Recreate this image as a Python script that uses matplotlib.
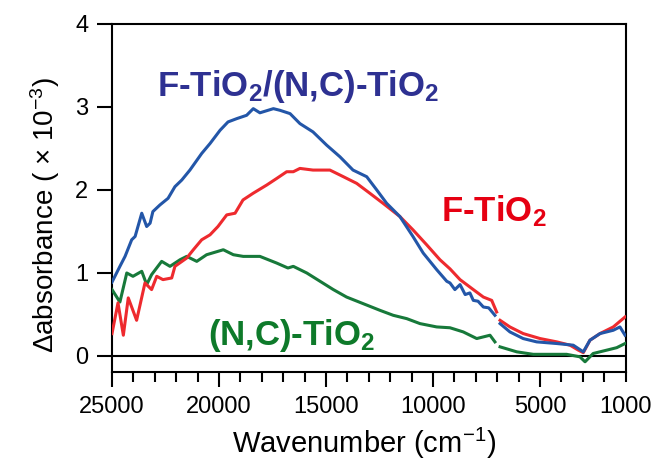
import numpy as np
import matplotlib
matplotlib.use("Agg")
import matplotlib.pyplot as plt

plt.rcParams['font.family'] = ['Liberation Sans', 'DejaVu Sans']
plt.rcParams['mathtext.fontset'] = 'custom'
plt.rcParams['mathtext.rm'] = 'Liberation Sans'
plt.rcParams['mathtext.it'] = 'Liberation Sans:italic'
plt.rcParams['mathtext.bf'] = 'Liberation Sans:bold'
plt.rcParams['mathtext.sf'] = 'Liberation Sans'

nan = np.nan

# F-TiO2/(N,C)-TiO2 (blue)
wn_blue = [25000, 24630, 24390, 24080, 23920, 23610, 23380, 23220, 23090, 22760,
           22380, 22060, 21740, 21360, 20810, 20420, 19950, 19580, 19170, 18710,
           18400, 18090, 17460, 17150, 16680, 16220, 15610, 14970, 14350, 13740,
           13100, 12630, 12170, 11550, 10940, 10460, 9830, 9360, 9210, 8980,
           8740, 8500, 8280, 8120, 7900, 7650, 7400, 7110, 7050,
           6870, 6410, 5790, 5160, 4220, 3450, 2980, 2670, 2200, 1580, 1270, 1030]
ab_blue = [0.89, 1.08, 1.20, 1.40, 1.44, 1.72, 1.56, 1.60, 1.74, 1.82,
           1.90, 2.04, 2.12, 2.24, 2.44, 2.56, 2.72, 2.82, 2.86, 2.90,
           2.98, 2.93, 2.98, 2.96, 2.92, 2.80, 2.70, 2.54, 2.40, 2.24,
           2.16, 2.00, 1.84, 1.68, 1.44, 1.24, 1.04, 0.90, 0.88, 0.80,
           0.86, 0.74, 0.76, 0.67, 0.66, 0.59, 0.58, 0.49, nan,
           0.39, 0.29, 0.21, 0.17, 0.15, 0.13, 0.05, 0.19, 0.27, 0.31, 0.35, 0.25]

# F-TiO2 (red)
wn_red = [25000, 24720, 24470, 24240, 23850, 23460, 23150, 22910, 22620, 22210,
          22060, 21510, 21200, 20810, 20420, 20050, 19640, 19250, 18880, 18410,
          17770, 17300, 16840, 16530, 16220, 15610, 14820, 14190, 13570, 12950,
          12340, 11550, 10940, 10300, 9680, 9210, 8740, 8120, 7650, 7260, 7030, 6990,
          6870, 6410, 5790, 5000, 4220, 3600, 3210, 2980, 2670, 2200, 1580, 1030]
ab_red = [0.27, 0.64, 0.25, 0.70, 0.43, 0.88, 0.80, 0.96, 0.92, 0.94,
          1.08, 1.18, 1.28, 1.40, 1.46, 1.56, 1.70, 1.72, 1.88, 1.96,
          2.06, 2.14, 2.22, 2.22, 2.26, 2.24, 2.24, 2.16, 2.08, 1.96,
          1.84, 1.68, 1.52, 1.34, 1.16, 1.05, 0.92, 0.80, 0.71, 0.67, 0.53, nan,
          0.43, 0.35, 0.27, 0.21, 0.17, 0.13, 0.07, 0.04, 0.19, 0.27, 0.35, 0.47]

# (N,C)-TiO2 (green)
wn_green = [25000, 24630, 24310, 24020, 23610, 23380, 23150, 22680, 22290, 21820,
            21510, 21040, 20580, 19800, 19330, 18870, 18090, 17310, 16780, 16530,
            15900, 15280, 14660, 14040, 13260, 12480, 11860, 11230, 10610, 9830,
            9210, 8590, 7960, 7340, 7110, 7050,
            6870, 6090, 5320, 3760, 3140, 2900, 2520, 1890, 1420, 1030]
ab_green = [0.80, 0.65, 1.00, 0.96, 1.02, 0.86, 0.98, 1.14, 1.08, 1.16,
            1.20, 1.14, 1.22, 1.28, 1.22, 1.20, 1.20, 1.12, 1.06, 1.08,
            1.00, 0.90, 0.80, 0.71, 0.63, 0.55, 0.49, 0.45, 0.39, 0.35,
            0.34, 0.29, 0.21, 0.25, 0.17, nan,
            0.11, 0.05, 0.02, 0.02, -0.01, -0.07, 0.03, 0.07, 0.10, 0.15]

c_blue, c_red, c_green = '#2356A8', '#EE2A2E', '#17793A'
t_blue, t_red, t_green = '#2E3192', '#E60012', '#0E7A2A'

fig = plt.figure(figsize=(6.6, 4.61), dpi=100)
ax = fig.add_axes([112/660, 1-372/461, (625.7-112)/660, (372-24)/461])

ax.axhline(0, color='black', lw=1.5, zorder=1)
ax.plot(wn_green, ab_green, color=c_green, lw=2.2, zorder=3)
ax.plot(wn_red, ab_red, color=c_red, lw=2.2, zorder=4)
ax.plot(wn_blue, ab_blue, color=c_blue, lw=2.2, zorder=5)

ax.set_xlim(25000, 1000)
ax.set_ylim(-0.193, 4)

ax.set_xticks([25000, 20000, 15000, 10000, 5000, 1000])
ax.set_xticklabels(['25000', '20000', '15000', '10000', '5000', '1000'])
ax.set_xticks(np.arange(24000, 1000, -1000), minor=True)
ax.set_yticks([0, 1, 2, 3, 4])

for s in ax.spines.values():
    s.set_linewidth(1.5)
ax.tick_params(axis='both', which='major', direction='out', length=11, width=1.5,
               labelsize=17, pad=6)
ax.tick_params(axis='x', which='minor', direction='out', length=7.5, width=1.5)
ax.xaxis.get_major_ticks()[-1].tick1line.set_markersize(7.5)

ax.set_xlabel('Wavenumber (cm$^{\\mathrm{-1}}$)', fontsize=21)
ax.xaxis.set_label_coords(0.49, -0.155)
ax.set_ylabel('\u0394absorbance ( \u00d7 10$^{\\mathrm{-3}}$)', fontsize=20)
ax.yaxis.set_label_coords(-0.13, 0.45)
ax.yaxis.label.set_va('center')

ax.text(22900, 3.13, r'F-TiO$_\mathbf{2}$/(N,C)-TiO$_\mathbf{2}$', color=t_blue,
        fontsize=25, fontweight='bold', ha='left', va='baseline')
ax.text(9630, 1.62, r'F-TiO$_\mathbf{2}$', color=t_red,
        fontsize=25, fontweight='bold', ha='left', va='baseline')
ax.text(20500, 0.13, r'(N,C)-TiO$_\mathbf{2}$', color=t_green,
        fontsize=25, fontweight='bold', ha='left', va='baseline')

fig.savefig('out.png', dpi=100)
